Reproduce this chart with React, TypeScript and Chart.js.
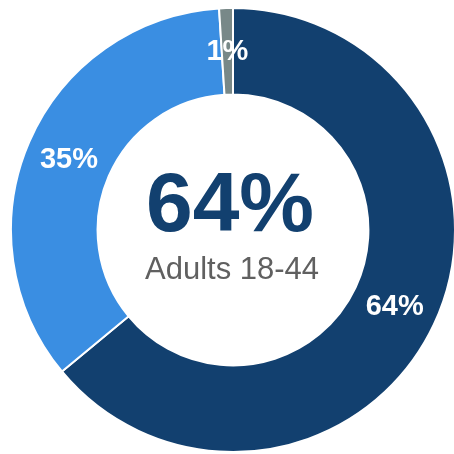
import React, { useEffect, useRef } from "react";
import { Chart, registerables } from "chart.js";

Chart.register(...registerables);

const categories = ["Adults 18-44", "Other", "Unknown"];
const values = [64, 35, 1];
const labelsText = ["64%", "35%", "1%"];
const colors = ["#12406f", "#3a8ee2", "#788888"];
const centerValue = "64%";
const centerLabel = "Adults 18-44";

const sliceLabelPlugin = {
  id: "sliceLabels",
  afterDatasetsDraw(chart: any) {
    const ctx = chart.ctx;
    const meta = chart.getDatasetMeta(0);
    ctx.save();
    ctx.fillStyle = "#ffffff";
    ctx.font = "bold 29px 'Liberation Sans', Arial, sans-serif";
    ctx.textAlign = "center";
    ctx.textBaseline = "middle";
    meta.data.forEach((arc: any, i: number) => {
      const p = arc.tooltipPosition();
      ctx.fillText(labelsText[i], p.x, p.y + 1);
    });
    ctx.restore();
  },
};

const centerTextPlugin = {
  id: "centerText",
  afterDraw(chart: any) {
    const ctx = chart.ctx;
    const meta = chart.getDatasetMeta(0);
    const arc = meta.data[0];
    const cx = arc.x;
    const cy = arc.y;
    ctx.save();
    ctx.textAlign = "center";
    ctx.textBaseline = "alphabetic";
    ctx.fillStyle = "#12406f";
    ctx.font = "bold 84px 'Liberation Sans', Arial, sans-serif";
    ctx.fillText(centerValue, cx - 3, cy + 1);
    ctx.fillStyle = "#606060";
    ctx.font = "31px 'Liberation Sans', Arial, sans-serif";
    ctx.fillText(centerLabel, cx - 1, cy + 49);
    ctx.restore();
  },
};

export default function App() {
  const ref = useRef<HTMLCanvasElement>(null);
  useEffect(() => {
    if (!ref.current) return;
    const chart = new Chart(ref.current, {
      type: "doughnut",
      data: {
        labels: categories,
        datasets: [
          {
            data: values,
            backgroundColor: colors,
            borderColor: "#ffffff",
            borderWidth: 2,
          },
        ],
      },
      options: {
        animation: false,
        responsive: true,
        maintainAspectRatio: false,
        cutout: "61%",
        layout: { padding: 0 },
        plugins: {
          legend: { display: false },
          tooltip: { enabled: false },
        },
      },
      plugins: [sliceLabelPlugin, centerTextPlugin],
    });
    return () => chart.destroy();
  }, []);
  return (
    <div style={{ position: "absolute", left: 8, top: 7, width: 450, height: 446 }}>
      <canvas ref={ref} />
    </div>
  );
}
